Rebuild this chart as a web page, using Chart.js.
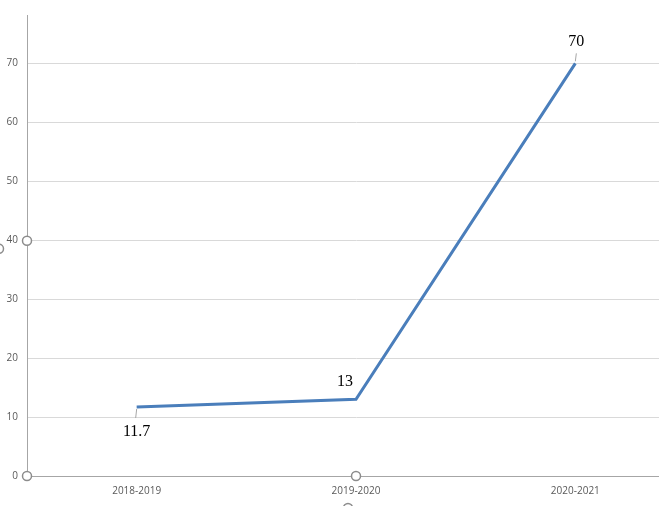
<!DOCTYPE html>
<html>
<head>
<meta charset="UTF-8">
<script src="https://cdn.jsdelivr.net/npm/chart.js"></script>
<style>
  body { margin: 0; overflow: hidden; background: #fff; }
  #wrap { width: 685px; height: 506px; }
</style>
</head>
<body>
<div id="wrap"><canvas id="grafico"></canvas></div>
<script>
// dados do gráfico
const categorias = ['2018-2019', '2019-2020', '2020-2021'];
const valores = [11.7, 13, 70];
const rotulos = ['11.7', '13', '70'];

// rótulos de dados (estilo Excel) e alças de seleção
const rotulosPlugin = {
  id: 'rotulos',
  afterDatasetsDraw(chart) {
    const ctx = chart.ctx;
    const pts = chart.getDatasetMeta(0).data;
    ctx.save();
    ctx.font = '16px "Liberation Serif", serif';
    ctx.fillStyle = '#000';
    ctx.textAlign = 'center';
    ctx.textBaseline = 'middle';
    // deslocamentos dos rótulos em relação ao ponto
    const desl = [[0, 25], [-11, -18], [1, -22]];
    pts.forEach((p, i) => {
      const x = p.x + desl[i][0], y = p.y + desl[i][1];
      ctx.fillText(rotulos[i], x, y);
    });
    // linhas de chamada
    ctx.strokeStyle = '#a6a6a6';
    ctx.lineWidth = 1;
    ctx.beginPath();
    ctx.moveTo(pts[0].x, pts[0].y + 2); ctx.lineTo(pts[0].x - 1, pts[0].y + 11);
    ctx.moveTo(pts[2].x, pts[2].y - 2); ctx.lineTo(pts[2].x + 1, pts[2].y - 10);
    ctx.stroke();
    // alças de seleção
    const a = chart.chartArea;
    const y0 = chart.scales.y.getPixelForValue(0);
    const y40 = chart.scales.y.getPixelForValue(39.9);
    ctx.fillStyle = '#fff';
    ctx.strokeStyle = '#8c8c8c';
    ctx.lineWidth = 1.5;
    [[a.left, y40], [a.left, y0], [pts[1].x, y0], [-1, y40 + 8], [pts[1].x - 8, 508]].forEach(h => {
      ctx.beginPath(); ctx.arc(h[0], h[1], 4.5, 0, Math.PI * 2); ctx.fill(); ctx.stroke();
    });
    ctx.restore();
  }
};

new Chart(document.getElementById('grafico'), {
  type: 'line',
  data: {
    labels: categorias,
    datasets: [{
      data: valores,
      borderColor: '#4a7ebb',
      borderWidth: 3,
      pointRadius: 0,
      tension: 0
    }]
  },
  options: {
    responsive: true,
    maintainAspectRatio: false,
    animation: false,
    layout: { padding: { top: -14 } },
    plugins: { legend: { display: false }, tooltip: { enabled: false } },
    scales: {
      x: {
        offset: true,
        grid: { display: false, drawTicks: false },
        border: { color: '#a6a6a6' },
        ticks: { color: '#595959', font: { size: 10, family: 'Open Sans' }, padding: 9 },
        afterFit(s) { s.height = 30; }
      },
      y: {
        min: 0, max: 78.2,
        afterBuildTicks(s) { s.ticks = [0, 10, 20, 30, 40, 50, 60, 70].map(v => ({ value: v })); },
        grid: { color: '#d9d9d9', drawTicks: false },
        border: { color: '#a6a6a6' },
        ticks: { color: '#595959', font: { size: 10, family: 'Open Sans' }, padding: 9 },
        afterFit(s) { s.width = 27; }
      }
    }
  },
  plugins: [rotulosPlugin]
});
</script>
</body>
</html>
